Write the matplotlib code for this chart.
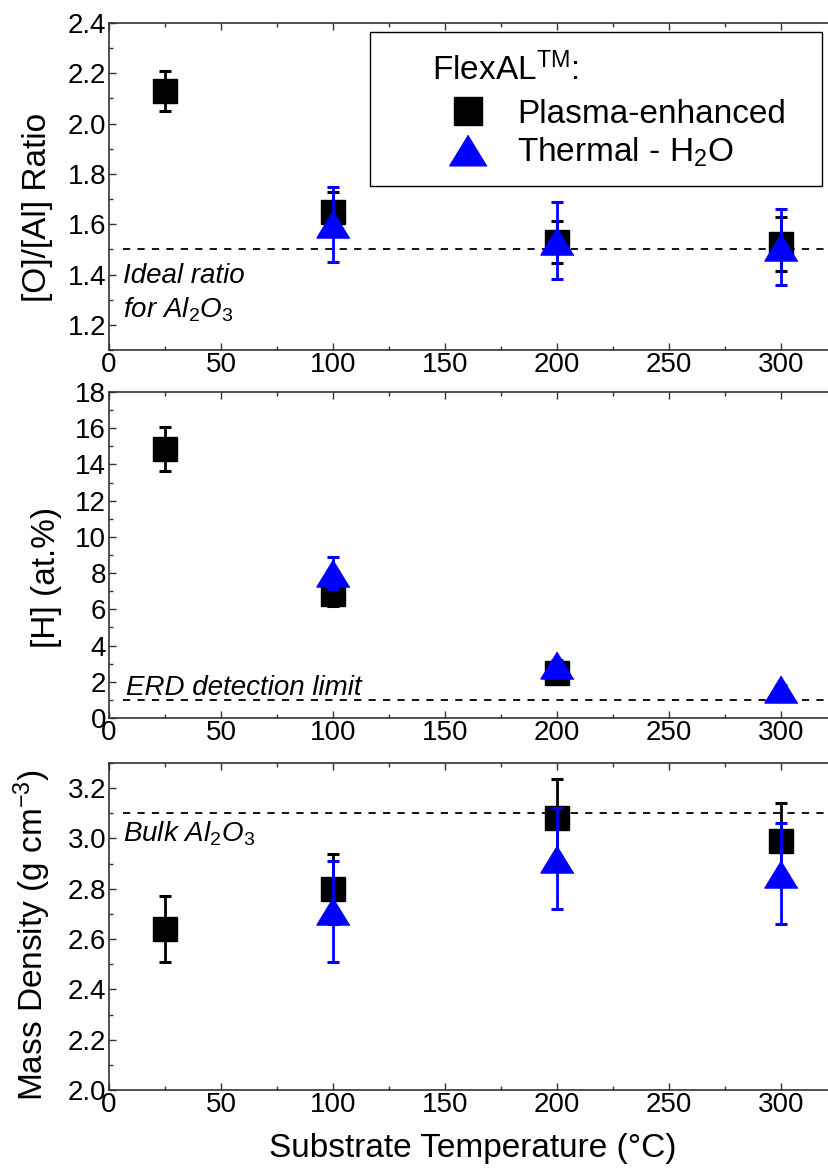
import matplotlib
matplotlib.use('Agg')
import matplotlib.pyplot as plt
from matplotlib.lines import Line2D
from matplotlib.patches import Rectangle
from matplotlib.ticker import MultipleLocator, FormatStrFormatter
import numpy as np

plt.rcParams['font.family'] = ['Liberation Sans', 'DejaVu Sans']
plt.rcParams['mathtext.fontset'] = 'custom'
plt.rcParams['mathtext.rm'] = 'Liberation Sans'
plt.rcParams['mathtext.it'] = 'Liberation Sans:italic'
plt.rcParams['mathtext.bf'] = 'Liberation Sans:bold'

# ---------------- data ----------------
oal_pe_T = [25, 100, 200, 300]
oal_pe = [2.13, 1.65, 1.53, 1.52]
oal_pe_err = [0.08, 0.08, 0.083, 0.107]
oal_th_T = [100, 200, 300]
oal_th = [1.60, 1.535, 1.51]
oal_th_err = [0.15, 0.153, 0.15]

h_pe_T = [25, 100, 200]
h_pe = [14.85, 6.85, 2.5]
h_pe_err = [1.2, 0.65, 0.3]
h_th_T = [100, 200, 300]
h_th = [8.0, 2.9, 1.6]
h_th_err = [0.9, 0.3, 0.2]

rho_pe_T = [25, 100, 200, 300]
rho_pe = [2.64, 2.80, 3.08, 2.99]
rho_pe_err = [0.133, 0.14, 0.155, 0.15]
rho_th_T = [100, 200, 300]
rho_th = [2.71, 2.92, 2.86]
rho_th_err = [0.20, 0.20, 0.20]

ideal_ratio = 1.5
erd_limit = 1.0
bulk_density = 3.1

x_ticks = [0, 50, 100, 150, 200, 250, 300]
legend_title = r'FlexAL$^{\mathrm{TM}}$:'
legend_labels = ['Plasma-enhanced', r'Thermal - H$_2$O']

# ---------------- style ----------------
W, H = 829, 1172
fig = plt.figure(figsize=(W / 100, H / 100), dpi=100)

TRI = [(0, 0.82), (-1, -0.82), (1, -0.82)]
SQ_MS = 17.3
TRI_MS = 23.8
BLUE = '#0000ff'


def make_ax(top_px, bot_px):
    left = 109
    right = 837
    return fig.add_axes([left / W, 1 - bot_px / H, (right - left) / W, (bot_px - top_px) / H])


def style_ax(ax, ylim, major, minor, fmt):
    ax.set_xlim(0, 325)
    ax.set_ylim(*ylim)
    ax.set_xticks(x_ticks)
    ax.xaxis.set_minor_locator(MultipleLocator(25))
    ax.yaxis.set_major_locator(MultipleLocator(major))
    ax.yaxis.set_minor_locator(MultipleLocator(minor))
    ax.yaxis.set_major_formatter(FormatStrFormatter(fmt))
    ax.tick_params(which='both', direction='in', top=True, right=False,
                   labelsize=20, width=1.0, color='#333333')
    ax.tick_params(which='major', length=5)
    ax.tick_params(which='minor', length=3)
    ax.tick_params(axis='x', pad=1.5)
    ax.tick_params(axis='y', pad=2)
    ax.spines['right'].set_visible(False)
    for s in ['left', 'top', 'bottom']:
        ax.spines[s].set_linewidth(1.2)
        ax.spines[s].set_color('#333333')


def plot_series(ax, pT, py, pe, tT, ty, te):
    ax.errorbar(pT, py, yerr=pe, fmt='s', color='black', ms=SQ_MS,
                capsize=4, capthick=2.2, elinewidth=2.0, zorder=3)
    ax.errorbar(tT, ty, yerr=te, fmt='none', ecolor=BLUE,
                capsize=4, capthick=2.2, elinewidth=2.0, zorder=3.9)
    ax.plot(tT, ty, ls='none', marker=TRI, ms=TRI_MS, color=BLUE,
            mec=BLUE, zorder=4)


DASH = (0, (4, 4))

# ---------------- top panel ----------------
ax1 = make_ax(23, 350)
plot_series(ax1, oal_pe_T, oal_pe, oal_pe_err, oal_th_T, oal_th, oal_th_err)
ax1.hlines(ideal_ratio, 6.25, 325, colors='black', linestyles=DASH, lw=1.3, zorder=2)
style_ax(ax1, (1.1, 2.4), 0.2, 0.1, '%.1f')
ax1.set_ylabel('[O]/[Al] Ratio', fontsize=24)
ax1.yaxis.set_label_coords(-0.077, 0.436)
ax1.text(6.25, 1.367, 'Ideal ratio', fontsize=20, style='italic', va='baseline')
ax1.text(6.25, 1.228, r'for Al$_{\mathit{2}}$O$_{\mathit{3}}$', fontsize=20,
         style='italic', va='baseline')

# legend: frame, title and entries
frame = Rectangle((370 / W, 1 - 186 / H), 452 / W, 154 / H, transform=fig.transFigure,
                  fill=True, facecolor='white', edgecolor='black', lw=1.0,
                  zorder=9, clip_on=False)
ax1.add_patch(frame)
ax1.text(432 / W, 1 - 80 / H, legend_title, fontsize=24, transform=fig.transFigure,
         va='baseline', ha='left', zorder=11)
handles = [Line2D([], [], ls='none', marker='s', color='black', ms=SQ_MS),
           Line2D([], [], ls='none', marker=TRI, color=BLUE, ms=TRI_MS)]
leg = ax1.legend(handles, legend_labels, loc='upper left',
                 bbox_to_anchor=(432 / W, 1 - 99 / H), bbox_transform=fig.transFigure,
                 fontsize=24, frameon=False, borderpad=0,
                 borderaxespad=0, handlelength=2.16, handletextpad=0.39,
                 labelspacing=0.18, markerscale=1.13)
leg.set_zorder(10)

# ---------------- middle panel ----------------
ax2 = make_ax(392, 718)
plot_series(ax2, h_pe_T, h_pe, h_pe_err, h_th_T, h_th, h_th_err)
ax2.hlines(erd_limit, 6.25, 325, colors='black', linestyles=DASH, lw=1.3, zorder=2)
style_ax(ax2, (0, 18), 2, 1, '%d')
ax2.set_ylabel('[H] (at.%)', fontsize=24)
ax2.yaxis.set_label_coords(-0.065, 0.431)
ax2.text(7.6, 1.27, 'ERD detection limit', fontsize=20, style='italic', va='baseline')

# ---------------- bottom panel ----------------
ax3 = make_ax(763, 1090)
plot_series(ax3, rho_pe_T, rho_pe, rho_pe_err, rho_th_T, rho_th, rho_th_err)
ax3.hlines(bulk_density, 6.25, 325, colors='black', linestyles=DASH, lw=1.3, zorder=2)
style_ax(ax3, (2.0, 3.3), 0.2, 0.1, '%.1f')
ax3.set_ylabel(r'Mass Density (g cm$^{\mathrm{-3}}$)', fontsize=24)
ax3.yaxis.set_label_coords(-0.077, 0.474)
ax3.text(6.25, 2.988, r'Bulk Al$_{\mathit{2}}$O$_{\mathit{3}}$', fontsize=20,
         style='italic', va='baseline')
ax3.set_xlabel('Substrate Temperature (°C)', fontsize=24)
ax3.xaxis.set_label_coords(0.5, -0.13)

fig.savefig('out.png', dpi=100)
